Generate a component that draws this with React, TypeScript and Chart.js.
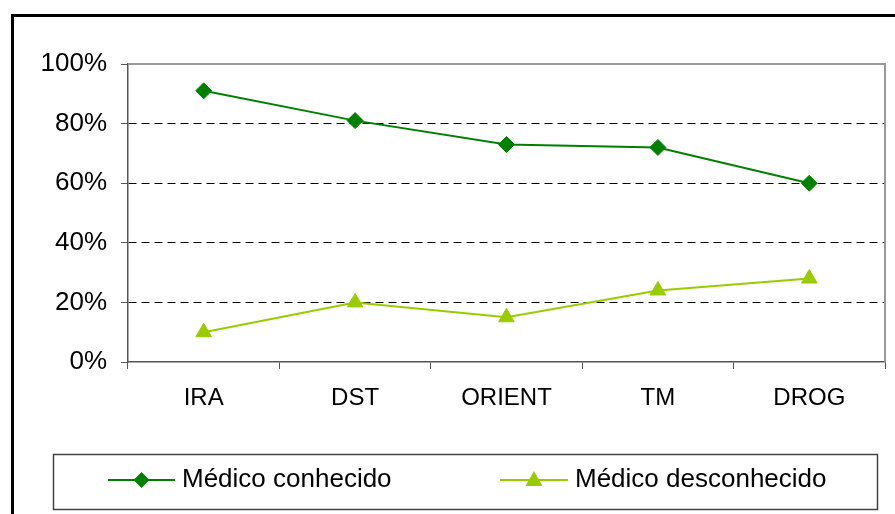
import React, { useEffect, useRef } from "react";
import { Chart, registerables } from "chart.js";

Chart.register(...registerables);

const categories = ["IRA", "DST", "ORIENT", "TM", "DROG"];
const seriesNames = ["Médico conhecido", "Médico desconhecido"];
const conhecido = [91, 81, 73, 72, 60];
const desconhecido = [10, 20, 15, 24, 28];
const yTicks = [0, 20, 40, 60, 80, 100];

const FONT = '"Liberation Sans", Arial, sans-serif';
const DARK = "#008000";
const LIGHT = "#99CC00";

const framePlugin = {
  id: "frame",
  afterDraw(chart: any) {
    const { ctx, chartArea } = chart;
    ctx.save();
    // plot frame top and right
    ctx.strokeStyle = "#999999";
    ctx.lineWidth = 2;
    ctx.beginPath();
    ctx.moveTo(chartArea.left, chartArea.top);
    ctx.lineTo(chartArea.right, chartArea.top);
    ctx.lineTo(chartArea.right, chartArea.bottom);
    ctx.stroke();
    // outer border
    ctx.strokeStyle = "#000000";
    ctx.lineWidth = 3;
    ctx.beginPath();
    ctx.moveTo(12.5, 520);
    ctx.lineTo(12.5, 15.5);
    ctx.lineTo(900, 15.5);
    ctx.stroke();
    // legend box
    ctx.strokeStyle = "#444444";
    ctx.lineWidth = 1.5;
    ctx.strokeRect(53.5, 454.5, 824, 55);
    const items = [
      { x0: 108, x1: 175, tx: 182, shape: "diamond" },
      { x0: 500, x1: 568, tx: 575, shape: "triangle" },
    ];
    const yc = 480;
    chart.data.datasets.forEach((ds: any, i: number) => {
      const it = items[i];
      const c = ds.borderColor;
      ctx.strokeStyle = c;
      ctx.fillStyle = c;
      ctx.lineWidth = 2;
      ctx.beginPath();
      ctx.moveTo(it.x0, yc);
      ctx.lineTo(it.x1, yc);
      ctx.stroke();
      const mx = (it.x0 + it.x1) / 2;
      ctx.beginPath();
      if (it.shape === "diamond") {
        const r = 8;
        ctx.moveTo(mx - r, yc);
        ctx.lineTo(mx, yc - r);
        ctx.lineTo(mx + r, yc);
        ctx.lineTo(mx, yc + r);
      } else {
        ctx.moveTo(mx, yc - 9);
        ctx.lineTo(mx + 8.5, yc + 6);
        ctx.lineTo(mx - 8.5, yc + 6);
      }
      ctx.closePath();
      ctx.fill();
      ctx.fillStyle = "#000000";
      ctx.font = `26px ${FONT}`;
      ctx.textBaseline = "middle";
      ctx.textAlign = "left";
      ctx.fillText(ds.label, it.tx, yc);
    });
    ctx.restore();
  },
};

export default function App() {
  const ref = useRef<HTMLCanvasElement | null>(null);
  useEffect(() => {
    if (!ref.current) return;
    const chart = new Chart(ref.current, {
      type: "line",
      data: {
        labels: categories,
        datasets: [
          {
            label: seriesNames[0],
            data: conhecido,
            borderColor: DARK,
            backgroundColor: DARK,
            borderWidth: 2,
            pointStyle: "rectRot",
            pointRadius: 8,
            pointBorderWidth: 1,
            tension: 0,
          },
          {
            label: seriesNames[1],
            data: desconhecido,
            borderColor: LIGHT,
            backgroundColor: LIGHT,
            borderWidth: 2,
            pointStyle: "triangle",
            pointRadius: 9,
            pointBorderWidth: 1,
            tension: 0,
          },
        ],
      },
      options: {
        responsive: false,
        animation: false,
        layout: { padding: { left: 0, top: 64, right: 10, bottom: 0 } },
        plugins: { legend: { display: false }, tooltip: { enabled: false } },
        scales: {
          x: {
            offset: true,
            grid: {
              drawOnChartArea: false,
              drawTicks: true,
              tickLength: 7,
              tickColor: "#555555",
              offset: true,
            },
            border: { color: "#555555", width: 1.5 },
            ticks: {
              color: "#000000",
              font: { family: FONT, size: 24 },
              padding: 15,
              maxRotation: 0,
            },
            afterFit(scale: any) {
              scale.height = 152;
            },
          },
          y: {
            min: 0,
            max: 100,
            afterBuildTicks(scale: any) {
              scale.ticks = yTicks.map((v) => ({ value: v }));
            },
            grid: {
              color: (ctx: any) =>
                ctx.tick && (ctx.tick.value === 0 || ctx.tick.value === 100)
                  ? "rgba(0,0,0,0)"
                  : "#000000",
              tickColor: "#555555",
              tickLength: 7,
              tickBorderDash: [],
              lineWidth: 1,
            },
            border: { color: "#555555", width: 1.5, dash: [8, 5] },
            ticks: {
              color: "#000000",
              font: { family: FONT, size: 26 },
              padding: 14,
              callback: (v: any) => `${v}%`,
            },
            afterFit(scale: any) {
              scale.width = 128;
            },
          },
        },
      },
      plugins: [framePlugin],
    } as any);
    return () => chart.destroy();
  }, []);
  return (
    <div style={{ position: "absolute", left: 0, top: 0, width: 895, height: 514, background: "#fff" }}>
      <canvas ref={ref} width={895} height={514} style={{ display: "block" }} />
    </div>
  );
}
